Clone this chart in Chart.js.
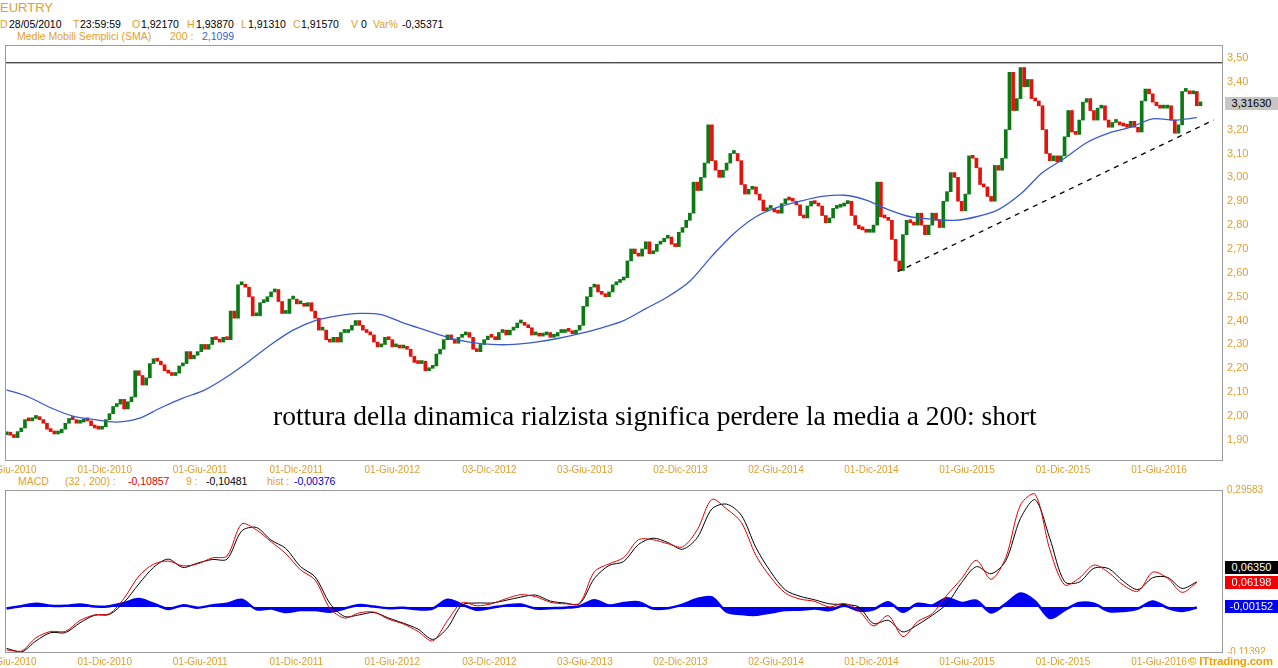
<!DOCTYPE html>
<html>
<head>
<meta charset="utf-8">
<title>EURTRY</title>
<script src="https://cdn.jsdelivr.net/npm/chart.js@4.4.0/dist/chart.umd.min.js"></script>
<style>
  body { margin: 0; background: #fff; width: 1278px; height: 668px; overflow: hidden; position: relative;
         font-family: "Liberation Sans", Arial, sans-serif; }
  .t { position: absolute; font-size: 10.5px; line-height: 1; white-space: nowrap; color: #e0a030; }
  .k { color: #000; }
  .box { position: absolute; left: 1225px; width: 53px; height: 13px; font-size: 11px; line-height: 13px;
         text-align: center; z-index: 5; white-space: nowrap; }
  #priceWrap { position: absolute; left: 0; top: 40px; width: 1278px; height: 440px; }
  #macdWrap { position: absolute; left: 0; top: 480px; width: 1278px; height: 188px; }
  .note { position: absolute; left: 273px; top: 402px; font-family: "Liberation Serif", "Times New Roman", serif;
          font-size: 27.5px; line-height: 1; white-space: nowrap; color: #000; z-index: 4; }
  .logo { position: absolute; left: 1187px; top: 654px; font-size: 11.5px; font-weight: bold; line-height: 14px;
          color: #f0a000; background: #fff; padding-left: 1px; z-index: 6; white-space: nowrap; letter-spacing: -0.2px; }
</style>
</head>
<body>

<!-- intestazione -->
<div class="t" style="left:0;top:1px;font-size:13px;">EURTRY</div>
<div class="t" style="left:0;top:19px;">D</div><div class="t k" style="left:9px;top:19px;">28/05/2010</div>
<div class="t" style="left:73px;top:19px;">T</div><div class="t k" style="left:80px;top:19px;">23:59:59</div>
<div class="t" style="left:132px;top:19px;">O</div><div class="t k" style="left:141px;top:19px;">1,92170</div>
<div class="t" style="left:187px;top:19px;">H</div><div class="t k" style="left:196px;top:19px;">1,93870</div>
<div class="t" style="left:241px;top:19px;">L</div><div class="t k" style="left:248px;top:19px;">1,91310</div>
<div class="t" style="left:293px;top:19px;">C</div><div class="t k" style="left:301px;top:19px;">1,91570</div>
<div class="t" style="left:351px;top:19px;">V</div><div class="t k" style="left:361px;top:19px;">0</div>
<div class="t" style="left:373px;top:19px;">Var%</div><div class="t k" style="left:402px;top:19px;">-0,35371</div>
<div class="t" style="left:17px;top:31px;">Medie Mobili Semplici (SMA)</div>
<div class="t" style="left:170px;top:31px;">200 :</div>
<div class="t" style="left:202px;top:31px;color:#3a62c8;">2,1099</div>

<div class="t" style="left:18px;top:476px;">MACD</div>
<div class="t" style="left:65px;top:476px;">(32 , 200) :</div>
<div class="t" style="left:128px;top:476px;color:#e00000;">-0,10857</div>
<div class="t" style="left:186px;top:476px;">9 :</div>
<div class="t k" style="left:206px;top:476px;">-0,10481</div>
<div class="t" style="left:267px;top:476px;">hist :</div>
<div class="t" style="left:294px;top:476px;color:#0000c0;">-0,00376</div>

<div id="priceWrap"><canvas id="priceChart" width="1278" height="440"></canvas></div>
<div id="macdWrap"><canvas id="macdChart" width="1278" height="188"></canvas></div>

<div class="note">rottura della dinamica rialzista significa perdere la media a 200: short</div>

<div class="box" style="top:97px;background:#c8c6c2;color:#000;">3,31630</div>
<div class="box" style="top:561px;background:#000;color:#fff;">0,06350</div>
<div class="box" style="top:576px;background:#f00000;color:#fff;">0,06198</div>
<div class="box" style="top:600px;background:#0000f0;color:#fff;">-0,00152</div>
<div class="logo">© ITtrading.com</div>

<script>
// EURTRY, una chiusura a settimana a partire dal 28/05/2010
const startDate = '2010-05-28';
const weekDays = 7;
const firstOpen = 1.9217;
const closes = [
  1.93, 1.92, 1.91, 1.935, 1.95, 1.985, 1.98, 1.99, 1.995, 1.985,
  1.97, 1.945, 1.935, 1.925, 1.93, 1.945, 1.97, 1.99, 1.985, 1.97,
  1.975, 1.985, 1.98, 1.96, 1.95, 1.945, 1.955, 1.985, 2.01, 2.04,
  2.05, 2.07, 2.03, 2.06, 2.08, 2.19, 2.17, 2.13, 2.16, 2.22,
  2.24, 2.23, 2.215, 2.19, 2.18, 2.17, 2.18, 2.21, 2.22, 2.27,
  2.24, 2.255, 2.27, 2.30, 2.28, 2.30, 2.33, 2.32, 2.31, 2.33,
  2.32, 2.44, 2.41, 2.55, 2.55, 2.54, 2.50, 2.42, 2.42, 2.475,
  2.48, 2.50, 2.52, 2.53, 2.48, 2.43, 2.43, 2.49, 2.49, 2.47,
  2.47, 2.46, 2.475, 2.44, 2.41, 2.36, 2.36, 2.32, 2.31, 2.33,
  2.31, 2.35, 2.35, 2.36, 2.38, 2.40, 2.38, 2.36, 2.35, 2.34,
  2.31, 2.29, 2.30, 2.33, 2.32, 2.29, 2.29, 2.285, 2.285, 2.28,
  2.25, 2.225, 2.22, 2.23, 2.19, 2.20, 2.21, 2.26, 2.28, 2.32,
  2.34, 2.32, 2.305, 2.33, 2.34, 2.35, 2.33, 2.28, 2.27, 2.30,
  2.32, 2.335, 2.33, 2.32, 2.35, 2.36, 2.34, 2.36, 2.37, 2.39,
  2.39, 2.38, 2.37, 2.34, 2.345, 2.335, 2.34, 2.35, 2.33, 2.335,
  2.35, 2.35, 2.36, 2.355, 2.345, 2.36, 2.38, 2.46, 2.50, 2.54,
  2.55, 2.52, 2.51, 2.50, 2.52, 2.55, 2.56, 2.57, 2.58, 2.65,
  2.70, 2.68, 2.67, 2.70, 2.73, 2.68, 2.69, 2.72, 2.73, 2.745,
  2.75, 2.72, 2.71, 2.77, 2.79, 2.82, 2.85, 2.98, 2.945, 3.00,
  3.06, 3.22, 3.07, 3.03, 3.00, 3.03, 3.06, 3.10, 3.10, 3.07,
  2.97, 2.93, 2.95, 2.96, 2.93, 2.905, 2.86, 2.87, 2.87, 2.855,
  2.85, 2.89, 2.91, 2.905, 2.90, 2.885, 2.84, 2.83, 2.88, 2.90,
  2.89, 2.88, 2.84, 2.81, 2.83, 2.87, 2.875, 2.88, 2.89, 2.90,
  2.84, 2.80, 2.785, 2.78, 2.77, 2.77, 2.80, 2.98, 2.835, 2.83,
  2.82, 2.74, 2.65, 2.61, 2.76, 2.82, 2.81, 2.80, 2.85, 2.80,
  2.76, 2.80, 2.85, 2.82, 2.79, 2.90, 2.94, 3.02, 3.00, 2.90,
  2.86, 2.93, 3.09, 3.08, 3.04, 2.97, 2.96, 2.92, 2.90, 3.05,
  3.03, 3.08, 3.20, 3.44, 3.28, 3.33, 3.46, 3.38, 3.41, 3.33,
  3.32, 3.30, 3.20, 3.10, 3.07, 3.09, 3.065, 3.09, 3.17, 3.28,
  3.19, 3.18, 3.24, 3.315, 3.33, 3.28, 3.24, 3.29, 3.30, 3.24,
  3.21, 3.23, 3.23, 3.22, 3.215, 3.21, 3.235, 3.21, 3.19, 3.32,
  3.37, 3.35, 3.315, 3.30, 3.29, 3.29, 3.30, 3.24, 3.185, 3.22,
  3.36, 3.36, 3.35, 3.36, 3.30, 3.316
];

// media mobile semplice a 200, un valore ogni 42 giorni
const smaStepDays = 42;
const sma200 = [
  2.11, 2.08, 2.035, 2.00, 1.985, 1.975, 1.99, 2.035, 2.075, 2.11,
  2.165, 2.23, 2.30, 2.36, 2.40, 2.42, 2.43, 2.425, 2.39, 2.36,
  2.33, 2.31, 2.30, 2.30, 2.31, 2.325, 2.345, 2.37, 2.40, 2.45,
  2.50, 2.565, 2.67, 2.765, 2.835, 2.875, 2.90, 2.92, 2.925, 2.905,
  2.865, 2.835, 2.825, 2.82, 2.835, 2.865, 2.93, 3.02, 3.08, 3.145,
  3.185, 3.21, 3.245, 3.24, 3.25
];

// MACD (32,200) e istogramma, un valore ogni 28 giorni
const macdStepDays = 28;
const macdLine = [
  -0.1086, -0.112, -0.078, -0.062, -0.062, -0.034, -0.020, -0.017, 0.022, 0.078,
  0.108, 0.116, 0.104, 0.109, 0.124, 0.129, 0.210, 0.195, 0.165, 0.135,
  0.094, 0.068, -0.003, -0.028, -0.015, -0.013, -0.031, -0.043, -0.062, -0.086,
  -0.035, 0.011, 0.003, 0.008, 0.021, 0.031, 0.026, 0.012, 0.008, 0.010,
  0.089, 0.109, 0.125, 0.170, 0.170, 0.160, 0.152, 0.195, 0.272, 0.248,
  0.214, 0.130, 0.075, 0.035, 0.020, 0.014, 0.000, 0.009, -0.009, -0.048,
  -0.022, -0.075, -0.037, -0.017, 0.030, 0.072, 0.118, 0.070, 0.125, 0.258,
  0.285, 0.145, 0.056, 0.073, 0.106, 0.087, 0.055, 0.040, 0.088, 0.073,
  0.037, 0.06198
];
const macdHist = [
  -0.00376, 0.002, 0.008, 0.003, 0.003, 0.006, 0.001, 0.002, 0.010, 0.020,
  0.008, -0.005, 0.004, -0.002, 0.004, 0.008, 0.018, -0.006, -0.004, -0.013,
  -0.008, -0.008, -0.012, -0.004, 0.005, 0.001, -0.003, -0.002, -0.006, -0.004,
  0.018, 0.006, -0.007, -0.002, 0.004, 0.006, -0.004, -0.003, -0.002, 0.002,
  0.017, 0.004, 0.010, 0.012, -0.004, -0.003, 0.006, 0.020, 0.024, -0.012,
  -0.018, -0.020, -0.014, -0.008, -0.007, -0.004, -0.008, 0.003, -0.009, -0.006,
  0.012, -0.012, 0.008, 0.004, 0.022, 0.010, 0.016, -0.014, 0.008, 0.034,
  0.014, -0.028, -0.008, 0.010, 0.008, -0.010, -0.010, -0.004, 0.014, -0.002,
  -0.010, -0.00152
];

const resistanceLevel = 3.48;
const trendDays = [1698, 2300];
const trendPrices = [2.605, 3.24];

const priceTicks = [1.9, 2.0, 2.1, 2.2, 2.3, 2.4, 2.5, 2.6, 2.7, 2.8, 2.9, 3.0, 3.1, 3.2, 3.3, 3.4, 3.5];
const macdTicks = [-0.11392, 0.29583];
const tickDates = ['2010-06-01', '2010-12-01', '2011-06-01', '2011-12-01', '2012-06-01', '2012-12-03', '2013-06-03',
                   '2013-12-02', '2014-06-02', '2014-12-01', '2015-06-01', '2015-12-01', '2016-06-01'];
const tickLabels = ['01-Giu-2010', '01-Dic-2010', '01-Giu-2011', '01-Dic-2011', '01-Giu-2012', '03-Dic-2012', '03-Giu-2013',
                    '02-Dic-2013', '02-Giu-2014', '01-Dic-2014', '01-Giu-2015', '01-Dic-2015', '01-Giu-2016'];

const dayMin = -3, dayMax = 2316;
const orange = '#dca031';
const dayOf = d => (Date.parse(d) - Date.parse(startDate)) / 86400000;
const tickDays = tickDates.map(dayOf);

// candele: apertura = chiusura della settimana precedente
const candles = closes.map((c, i) => ({ x: i * weekDays, y: [i ? closes[i - 1] : firstOpen, c] }));
const candleColors = candles.map(d => d.y[1] >= d.y[0] ? '#0b7a14' : '#e3120b');
const smaPoints = sma200.map((v, i) => ({ x: i * smaStepDays, y: v }));
const resistance = [{ x: dayMin, y: resistanceLevel }, { x: dayMax, y: resistanceLevel }];
const trendLine = trendDays.map((d, i) => ({ x: d, y: trendPrices[i] }));

const macdPoints = macdLine.map((v, i) => ({ x: i * macdStepDays, y: v }));
const histPoints = macdHist.map((v, i) => ({ x: i * macdStepDays, y: v }));
const signalPoints = macdLine.map((v, i) => ({ x: i * macdStepDays, y: v - macdHist[i] }));

// cornice grigia attorno all'area del grafico
const frame = {
  id: 'frame',
  afterDraw(chart) {
    const { ctx, chartArea: a } = chart;
    ctx.save();
    ctx.strokeStyle = '#9a9a9a';
    ctx.lineWidth = 1;
    ctx.strokeRect(a.left + 0.5, a.top + 0.5, a.right - a.left, a.bottom - a.top);
    ctx.restore();
  }
};

function xAxis(pad) {
  return {
    type: 'linear', min: dayMin, max: dayMax, offset: false,
    grid: { display: false, drawTicks: false }, border: { display: false },
    afterBuildTicks: s => { s.ticks = tickDays.map(v => ({ value: v })); },
    afterFit: s => { s.height = pad; s.paddingLeft = 0; s.paddingRight = 0; },
    ticks: {
      autoSkip: false, maxRotation: 0, padding: 4, color: orange,
      font: { family: 'Liberation Sans', size: 10 },
      callback: (v, i) => tickLabels[i]
    }
  };
}

function yAxis(min, max, ticks, size, digits) {
  return {
    position: 'right', min: min, max: max,
    grid: { display: false, drawTicks: false }, border: { display: false },
    afterBuildTicks: s => { s.ticks = ticks.map(v => ({ value: v })); },
    afterFit: s => { s.width = 56; s.paddingTop = 0; s.paddingBottom = 0; },
    ticks: { padding: 5, color: orange, font: { family: 'Liberation Sans', size: size },
             callback: v => v.toFixed(digits).replace('.', ',') }
  };
}

new Chart(document.getElementById('priceChart'), {
  type: 'bar',
  data: {
    datasets: [
      { type: 'line', data: resistance, borderColor: '#000', borderWidth: 1, pointRadius: 0, order: 1 },
      { type: 'line', data: trendLine, borderColor: '#000', borderWidth: 1.3, borderDash: [5, 5], pointRadius: 0, order: 1 },
      { type: 'line', data: smaPoints, borderColor: '#3a5bd0', borderWidth: 1.3, pointRadius: 0, tension: 0.3, order: 2 },
      { type: 'bar', data: candles, backgroundColor: candleColors, barThickness: 3, minBarLength: 3, order: 3 }
    ]
  },
  options: {
    responsive: false, animation: false,
    layout: { padding: { left: 5, top: 5, right: 0, bottom: 0 } },
    plugins: { legend: { display: false }, tooltip: { enabled: false } },
    scales: {
      x: xAxis(20),
      y: yAxis(1.816, 3.5545, priceTicks, 11, 2)
    }
  },
  plugins: [frame]
});

new Chart(document.getElementById('macdChart'), {
  type: 'line',
  data: {
    datasets: [
      { data: histPoints, borderColor: '#0000f0', backgroundColor: '#0000f0', borderWidth: 2.5,
        fill: 'origin', pointRadius: 0, tension: 0.3, order: 3 },
      { data: signalPoints, borderColor: '#000', borderWidth: 1, pointRadius: 0, tension: 0.3, order: 2 },
      { data: macdPoints, borderColor: '#e00000', borderWidth: 1, pointRadius: 0, tension: 0.3, order: 1 }
    ]
  },
  options: {
    responsive: false, animation: false,
    layout: { padding: { left: 5, top: 10, right: 0, bottom: 0 } },
    plugins: { legend: { display: false }, tooltip: { enabled: false } },
    scales: {
      x: xAxis(16),
      y: yAxis(macdTicks[0], macdTicks[1], macdTicks, 10, 5)
    }
  },
  plugins: [frame]
});
</script>
</body>
</html>
